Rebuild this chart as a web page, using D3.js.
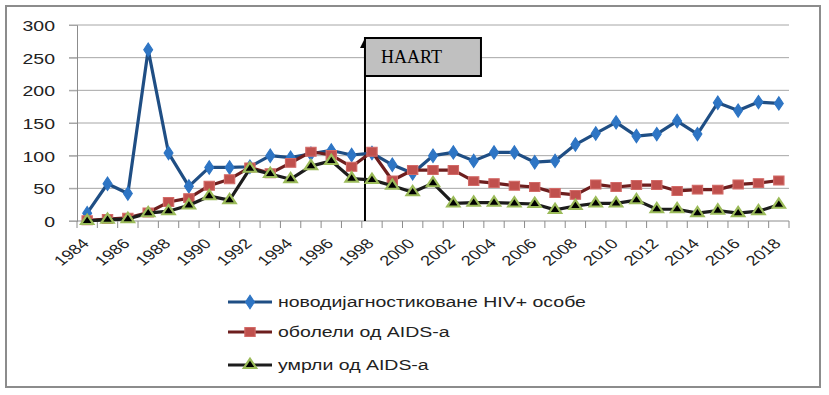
<!DOCTYPE html>
<html>
<head>
<meta charset="utf-8">
<script src="https://cdn.jsdelivr.net/npm/d3@7"></script>
<style>
  body { margin: 0; background: #fff; }
  svg { display: block; }
  .axis-text { font-family: "Liberation Sans", Arial, sans-serif; fill: #222; }
</style>
</head>
<body>
<svg></svg>
<script>
var years = ["1984","1985","1986","1987","1988","1989","1990","1991","1992","1993","1994","1995",
  "1996","1997","1998","1999","2000","2001","2002","2003","2004","2005","2006","2007","2008",
  "2009","2010","2011","2012","2013","2014","2015","2016","2017","2018"];
var hivNew = [12,57,42,262,104,53,82,82,83,100,97,103,108,101,104,86,73,100,105,92,105,105,90,92,117,
  134,151,130,133,153,133,181,169,182,180];
var aidsCases = [1,3,5,13,29,35,54,64,82,73,89,106,101,83,106,62,78,78,78,61,58,54,52,43,40,
  56,52,55,55,46,48,48,56,58,62];
var aidsDeaths = [0,2,3,12,15,24,38,32,80,72,64,84,92,65,63,54,44,58,27,28,28,27,26,17,23,
  27,27,32,18,18,12,16,12,15,25];
var yTicks = [0, 50, 100, 150, 200, 250, 300];
var seriesNames = ["новодијагностиковане HIV+ особе", "оболели од AIDS-а", "умрли од AIDS-а"];
var haartYear = "1998";

var W = 829, H = 395;
var stretch = 1.3; // source image looks stretched sideways

var svg = d3.select("svg").attr("width", W).attr("height", H);

// outer frame
svg.append("rect")
  .attr("x", 6).attr("y", 6).attr("width", 814).attr("height", 381)
  .attr("fill", "#fff").attr("stroke", "#8c8c8c").attr("stroke-width", 2);

var x = d3.scaleBand().domain(years).range([77, 789]).padding(0);
var y = d3.scaleLinear().domain([0, 300]).range([221, 25]);
var cx = function(d) { return x(d) + x.bandwidth() / 2; };

// grid lines
svg.append("g")
  .selectAll("line")
  .data(yTicks)
  .enter().append("line")
  .attr("x1", 69).attr("x2", 789)
  .attr("y1", function(d) { return y(d); })
  .attr("y2", function(d) { return y(d); })
  .attr("stroke", function(d) { return d === 0 ? "#8c8c8c" : "#a6a6a6"; })
  .attr("stroke-width", 1);

// y axis
var yAxis = svg.append("g")
  .attr("transform", "translate(77,0)")
  .call(d3.axisLeft(y).tickValues(yTicks).tickSize(8).tickPadding(6));
yAxis.select(".domain").attr("stroke", "#8c8c8c");
yAxis.selectAll(".tick line").attr("stroke", "#a6a6a6");
yAxis.selectAll(".tick text")
  .attr("class", "axis-text")
  .style("font-size", "15px")
  .attr("transform", "scale(" + stretch + ",1)")
  .attr("x", -22 / stretch)
  .attr("dy", "0.36em");

// x axis ticks between categories
var bounds = years.map(function(d) { return x(d); }).concat([x.range()[1]]);
svg.append("g")
  .selectAll("line")
  .data(bounds)
  .enter().append("line")
  .attr("x1", function(d) { return d; }).attr("x2", function(d) { return d; })
  .attr("y1", 221).attr("y2", 228)
  .attr("stroke", "#8c8c8c");

var xAxis = svg.append("g")
  .attr("transform", "translate(0,221)")
  .call(d3.axisBottom(x).tickValues(years.filter(function(d, i) { return i % 2 === 0; })).tickSize(0));
xAxis.select(".domain").remove();
xAxis.selectAll(".tick text")
  .attr("class", "axis-text")
  .style("font-size", "14px")
  .attr("text-anchor", "end")
  .attr("x", 0).attr("y", 0).attr("dy", "0.35em")
  .attr("transform", "translate(-1.5,20) scale(" + stretch + ",1) rotate(-45)");

// HAART annotation
var hx = cx(haartYear) - 7;
svg.append("defs").append("marker")
  .attr("id", "arrow")
  .attr("viewBox", "0 0 10 10")
  .attr("refX", 10).attr("refY", 5)
  .attr("markerWidth", 5).attr("markerHeight", 5)
  .attr("orient", "auto")
  .append("path").attr("d", "M0,0L10,5L0,10z").attr("fill", "#000");

svg.append("line")
  .attr("x1", hx).attr("x2", hx)
  .attr("y1", y(0)).attr("y2", 38)
  .attr("stroke", "#000").attr("stroke-width", 2)
  .attr("marker-end", "url(#arrow)");

// series
var series = [
  { name: seriesNames[0], values: hivNew, line: "#1f4e84", fill: "#2e75c4", stroke: "#2e75c4", shape: d3.symbolDiamond },
  { name: seriesNames[1], values: aidsCases, line: "#6d1e1e", fill: "#c0504d", stroke: "#d26a67", shape: d3.symbolSquare },
  { name: seriesNames[2], values: aidsDeaths, line: "#1c1c1c", fill: "#000", stroke: "#9bbb59", shape: d3.symbolTriangle }
];

var line = d3.line()
  .x(function(d, i) { return cx(years[i]); })
  .y(function(d) { return y(d); });

function drawMarker(g, s, px, py) {
  var size = s.shape === d3.symbolSquare ? 80 : (s.shape === d3.symbolDiamond ? 52 : 50);
  g.append("path")
    .attr("d", d3.symbol().type(s.shape).size(size)())
    .attr("transform", "translate(" + px + "," + py + ") scale(1.15,1)")
    .attr("fill", s.fill)
    .attr("stroke", s.stroke)
    .attr("stroke-width", s.shape === d3.symbolTriangle ? 2 : 1);
}

series.forEach(function(s) {
  var g = svg.append("g");
  g.append("path")
    .datum(s.values)
    .attr("d", line)
    .attr("fill", "none")
    .attr("stroke", s.line)
    .attr("stroke-width", 3.2)
    .attr("stroke-linejoin", "round");
  s.values.forEach(function(v, i) {
    drawMarker(g, s, cx(years[i]), y(v));
  });
});

// HAART box on top
svg.append("rect")
  .attr("x", hx).attr("y", 38).attr("width", 116).attr("height", 38)
  .attr("fill", "#c0c0c0").attr("stroke", "#000").attr("stroke-width", 2);
svg.append("text")
  .attr("x", hx + 16).attr("y", 63)
  .style("font-family", "'Liberation Serif', 'Times New Roman', serif")
  .style("font-size", "18px")
  .attr("fill", "#000")
  .text("HAART");

// legend
var legend = svg.append("g");
var legendY = [302, 332, 365];
series.forEach(function(s, i) {
  var g = legend.append("g");
  g.append("line")
    .attr("x1", 228).attr("x2", 272)
    .attr("y1", legendY[i]).attr("y2", legendY[i])
    .attr("stroke", s.line).attr("stroke-width", 3.2);
  drawMarker(g, s, 250, legendY[i]);
  g.append("text")
    .attr("class", "axis-text")
    .attr("transform", "translate(278," + legendY[i] + ") scale(" + stretch + ",1)")
    .attr("dy", "0.36em")
    .style("font-size", "15px")
    .text(s.name);
});
</script>
</body>
</html>
